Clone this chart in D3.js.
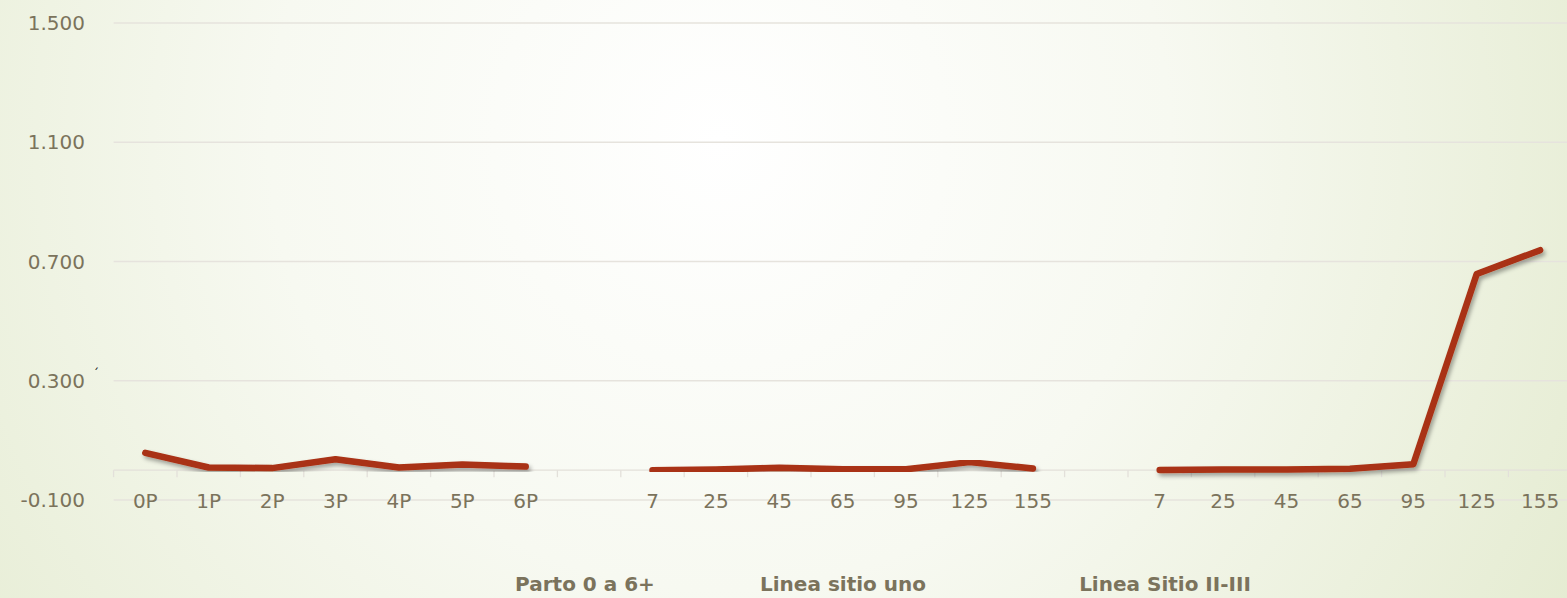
<!DOCTYPE html>
<html>
<head>
<meta charset="utf-8">
<script src="https://cdn.jsdelivr.net/npm/d3@7"></script>
<style>
  html, body { margin: 0; padding: 0; overflow: hidden; }
  text { font-family: "DejaVu Sans", sans-serif; }
</style>
</head>
<body>
<div id="chart"></div>
<script>
// values
var partoLabels = ["0P", "1P", "2P", "3P", "4P", "5P", "6P"];
var sitioLabels = ["7", "25", "45", "65", "95", "125", "155"];
var partoValues = [0.058, 0.009, 0.007, 0.037, 0.009, 0.019, 0.012];
var sitioUnoValues = [0.000, 0.002, 0.008, 0.003, 0.003, 0.027, 0.006];
var sitioIIValues = [0.001, 0.002, 0.002, 0.005, 0.020, 0.658, 0.738];
var groupNames = ["Parto 0 a 6+", "Linea sitio uno", "Linea Sitio II-III"];
var yTicks = [-0.1, 0.3, 0.7, 1.1, 1.5];

var width = 1567, height = 598;

// one flat list of categories, with a blank slot between groups
var groups = [
    {name: groupNames[0], labels: partoLabels, values: partoValues},
    {name: groupNames[1], labels: sitioLabels, values: sitioUnoValues},
    {name: groupNames[2], labels: sitioLabels, values: sitioIIValues}
];
var cats = [];
groups.forEach(function(g, gi) {
    if (gi > 0) cats.push({label: "", group: -1});
    g.labels.forEach(function(l, i) {
        cats.push({label: l, group: gi, value: g.values[i]});
    });
});

var x = d3.scaleBand()
    .domain(d3.range(cats.length))
    .range([113.6, 113.6 + cats.length * 63.4]);

var y = d3.scaleLinear()
    .domain([-0.1, 1.5])
    .range([500, 23]);

var svg = d3.select("#chart").append("svg")
    .attr("width", width)
    .attr("height", height);

var defs = svg.append("defs");
var bg = defs.append("radialGradient")
    .attr("id", "bg")
    .attr("gradientUnits", "userSpaceOnUse")
    .attr("cx", 720).attr("cy", 140).attr("r", 1000);
bg.append("stop").attr("offset", "0%").attr("stop-color", "#ffffff");
bg.append("stop").attr("offset", "45%").attr("stop-color", "#f7f9f1");
bg.append("stop").attr("offset", "100%").attr("stop-color", "#e4ebd0");

var shadow = defs.append("filter")
    .attr("id", "shadow")
    .attr("x", "-5%").attr("y", "-20%")
    .attr("width", "110%").attr("height", "140%");
shadow.append("feDropShadow")
    .attr("dx", 2).attr("dy", 3)
    .attr("stdDeviation", 2)
    .attr("flood-color", "#000")
    .attr("flood-opacity", 0.35);

svg.append("rect")
    .attr("width", width).attr("height", height)
    .attr("fill", "url(#bg)");

// gridlines + y labels
svg.selectAll(".grid").data(yTicks)
    .enter().append("line")
    .attr("class", "grid")
    .attr("x1", 113.6).attr("x2", width)
    .attr("y1", function(d) { return y(d); })
    .attr("y2", function(d) { return y(d); })
    .attr("stroke", "#e6e3dd")
    .attr("stroke-width", 1.3);

svg.selectAll(".ylab").data(yTicks)
    .enter().append("text")
    .attr("class", "ylab")
    .attr("x", 85)
    .attr("y", function(d) { return y(d) + 7; })
    .attr("text-anchor", "end")
    .attr("font-size", "20px")
    .attr("fill", "#7b735c")
    .text(function(d) { return d3.format(".3f")(d).replace("\u2212", "-"); });

// stray mark next to 0.300
svg.append("text")
    .attr("x", 93).attr("y", 378)
    .attr("font-size", "12px")
    .attr("fill", "#111")
    .text("\u00b4");

// category axis at zero
var xAxis = svg.append("g");
xAxis.append("line")
    .attr("x1", x(0)).attr("x2", width)
    .attr("y1", y(0)).attr("y2", y(0))
    .attr("stroke", "#e3e0da")
    .attr("stroke-width", 1.3);
xAxis.selectAll(".tick").data(d3.range(cats.length + 1))
    .enter().append("line")
    .attr("class", "tick")
    .attr("x1", function(i) { return x.range()[0] + i * x.step(); })
    .attr("x2", function(i) { return x.range()[0] + i * x.step(); })
    .attr("y1", y(0)).attr("y2", y(0) + 7)
    .attr("stroke", "#e3e0da")
    .attr("stroke-width", 1.3);

xAxis.selectAll(".xlab").data(cats)
    .enter().append("text")
    .attr("class", "xlab")
    .attr("x", function(d, i) { return x(i) + x.bandwidth() / 2; })
    .attr("y", 508)
    .attr("text-anchor", "middle")
    .attr("font-size", "20px")
    .attr("fill", "#7b735c")
    .text(function(d) { return d.label; });

// group labels (placed where the original puts them)
var groupX = [585, 843, 1165];
svg.selectAll(".glab").data(groupNames)
    .enter().append("text")
    .attr("class", "glab")
    .attr("x", function(d, i) { return groupX[i]; })
    .attr("y", 591)
    .attr("text-anchor", "middle")
    .attr("font-family", "'DejaVu Sans Condensed', 'DejaVu Sans', sans-serif")
    .attr("font-size", "20px")
    .attr("font-weight", "bold")
    .attr("fill", "#7b735c")
    .text(function(d) { return d; });

// lines, one per group
var line = d3.line()
    .x(function(d) { return x(d.i) + x.bandwidth() / 2; })
    .y(function(d) { return y(d.value); });

groups.forEach(function(g, gi) {
    var pts = [];
    cats.forEach(function(c, i) {
        if (c.group === gi) pts.push({i: i, value: c.value});
    });
    svg.append("path")
        .datum(pts)
        .attr("d", line)
        .attr("fill", "none")
        .attr("stroke", "#a93013")
        .attr("stroke-width", 6.5)
        .attr("stroke-linecap", "round")
        .attr("stroke-linejoin", "round")
        .attr("filter", "url(#shadow)");
});
</script>
</body>
</html>
